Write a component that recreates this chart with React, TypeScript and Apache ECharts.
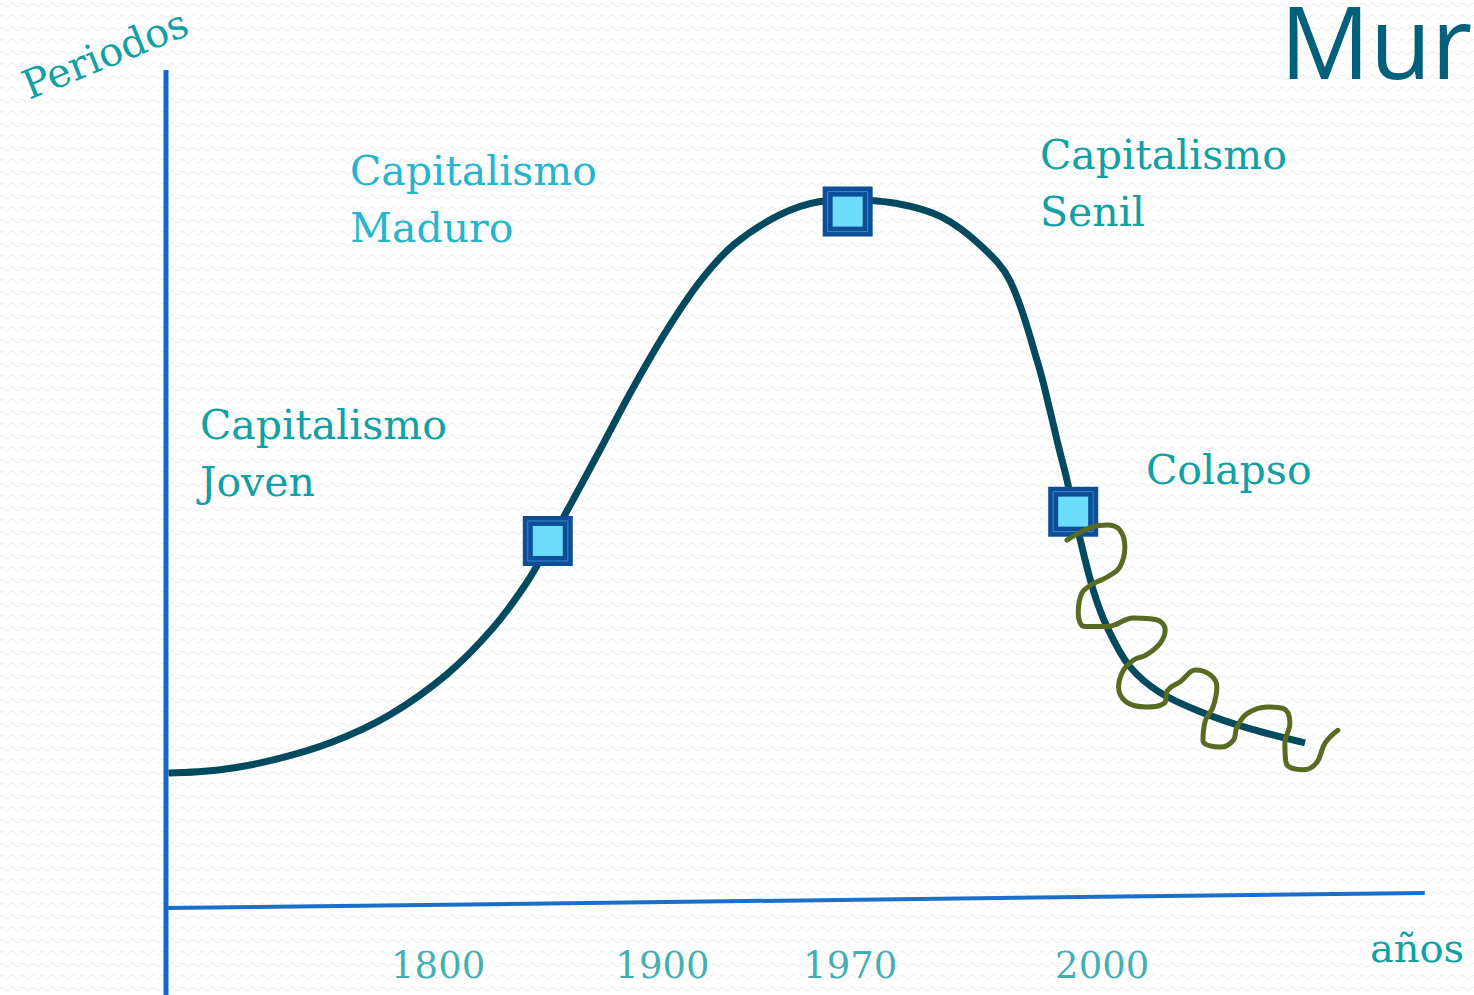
import React, { useEffect, useRef } from "react";
import * as echarts from "echarts";

// Conceptual units: x 0..100 (left axis to right end), y 0 = horizontal axis, 100 = top of vertical axis
const curvePoints: [number, number][] = [
  [0.2, 16.1], [4.3, 16.5], [8.6, 17.7], [13.2, 19.8], [17.7, 23.0], [22.3, 27.9],
  [26.0, 33.5], [28.7, 39.0], [30.3, 43.2], [34.1, 53.7], [36.9, 61.6], [39.6, 68.6],
  [42.4, 74.8], [45.1, 79.2], [48.7, 82.7], [51.9, 84.3], [54.2, 84.5], [57.9, 84.1],
  [61.5, 82.5], [64.7, 79.0], [67.0, 74.8], [69.2, 65.0], [70.2, 59.1],
  [70.8, 55.3], [71.5, 51.1], [72.5, 44.3], [73.6, 37.9], [74.7, 33.5], [76.5, 28.8],
  [78.9, 25.7], [82.3, 23.3], [85.8, 21.5], [90.4, 19.7],
];

const wigglePoints: [number, number][] = [
  [71.5, 43.9], [73.6, 45.5], [74.7, 45.7], [75.7, 45.1], [76.1, 43.1], [75.7, 40.7],
  [74.7, 39.5], [73.6, 38.7], [72.7, 37.6], [72.4, 35.2], [72.9, 33.6], [74.7, 33.6],
  [76.8, 34.6], [78.6, 34.4], [79.3, 33.2], [78.9, 31.6], [77.8, 30.2], [76.8, 29.6],
  [76.0, 28.4], [75.6, 26.4], [76.2, 24.6], [77.8, 24.0], [79.2, 24.4], [79.5, 26.0],
  [80.5, 27.0], [81.7, 28.4], [82.9, 27.8], [83.4, 26.4], [83.1, 24.0], [82.5, 22.4],
  [82.3, 20.0], [83.7, 19.2], [84.7, 20.0], [85.0, 21.6], [85.8, 23.2], [87.4, 24.0],
  [88.7, 23.8], [89.2, 22.0], [88.8, 19.7], [88.9, 17.3], [90.3, 16.5], [91.3, 17.3],
  [92.0, 19.7], [93.0, 21.2],
];

const milestonePoints: [number, number][] = [
  [30.3, 43.8], [54.1, 83.1], [72.0, 47.3],
];

const verticalAxisLine: [number, number][] = [[0, 100], [0, -10.4]];
const horizontalAxisLine: [number, number][] = [[0.1, 0], [99.9, 1.8]];

const yearLabels = ["1800", "1900", "1970", "2000"];
const yearPositions: [number, number][] = [[21.6, -6.9], [39.4, -6.9], [54.3, -6.9], [74.3, -6.9]];

const TEAL = "#11a0a3";
const LIGHT_TEAL = "#27b5cc";
const SERIF = "'DejaVu Serif', serif";

const tile =
  "<svg xmlns='http://www.w3.org/2000/svg' width='10' height='12'><path d='M0 5 Q2.5 1.5 5 5 T10 5' fill='none' stroke='#f0f0f0' stroke-width='1.2'/></svg>";

export default function App() {
  const ref = useRef<HTMLDivElement>(null);

  useEffect(() => {
    if (!ref.current) return;
    const chart = echarts.init(ref.current, undefined, { renderer: "svg" });

    const txt = (text: string, x: number, y: number, size: number, color: string, extra: any = {}) => ({
      type: "text",
      x,
      y,
      silent: true,
      z: 10,
      style: {
        text,
        fill: color,
        font: `${size}px ${SERIF}`,
        textAlign: "left",
        textVerticalAlign: "middle",
        ...(extra.style || {}),
      },
      ...(extra.el || {}),
    });

    chart.setOption({
      animation: false,
      backgroundColor: "transparent",
      grid: { left: 166, right: 48, top: 70, bottom: 0, containLabel: false },
      xAxis: { type: "value", min: 0, max: 100, show: false },
      yAxis: { type: "value", min: -10.38, max: 100, show: false },
      graphic: [
        txt("Periodos", 105, 54, 40, TEAL, {
          el: { rotation: 0.385 },
          style: { textAlign: "center" },
        }),
        txt("Capitalismo", 350, 171, 41, LIGHT_TEAL),
        txt("Maduro", 350, 228, 41, LIGHT_TEAL),
        txt("Capitalismo", 200, 425, 41, TEAL),
        txt("Joven", 200, 482, 41, TEAL),
        txt("Capitalismo", 1040, 155, 41, TEAL),
        txt("Senil", 1040, 212, 41, TEAL),
        txt("Colapso", 1146, 470, 41, TEAL),
        txt("años", 1417, 948, 40, TEAL, { style: { textAlign: "center" } }),
        {
          type: "text",
          x: 1280,
          y: 40,
          silent: true,
          z: 10,
          style: {
            text: "Mur",
            fill: "#03607a",
            font: "100px 'Open Sans', sans-serif",
            textAlign: "left",
            textVerticalAlign: "middle",
          },
        },
      ],
      series: [
        {
          type: "line",
          data: verticalAxisLine,
          symbol: "none",
          clip: false,
          lineStyle: { color: "#1569c6", width: 5 },
          z: 1,
          silent: true,
        },
        {
          type: "line",
          data: horizontalAxisLine,
          symbol: "none",
          clip: false,
          lineStyle: { color: "#1a6fca", width: 4 },
          z: 1,
          silent: true,
        },
        {
          type: "line",
          data: curvePoints,
          smooth: 0.35,
          symbol: "none",
          clip: false,
          lineStyle: { color: "#044a5e", width: 7, cap: "butt" },
          z: 2,
          silent: true,
        },
        {
          type: "scatter",
          data: milestonePoints,
          symbol: "rect",
          symbolSize: 50,
          itemStyle: { color: "#0c4f98", opacity: 1 },
          z: 3,
          silent: true,
        },
        {
          type: "scatter",
          data: milestonePoints,
          symbol: "rect",
          symbolSize: 40,
          itemStyle: { color: "none", borderColor: "#3f86c9", borderWidth: 1, opacity: 1 },
          z: 4,
          silent: true,
        },
        {
          type: "scatter",
          data: milestonePoints,
          symbol: "rect",
          symbolSize: 30,
          itemStyle: { color: "#6bdcfa", opacity: 1 },
          z: 5,
          silent: true,
        },
        {
          type: "line",
          data: wigglePoints,
          smooth: 0.4,
          symbol: "none",
          clip: false,
          lineStyle: { color: "#596a22", width: 5, cap: "round", join: "round" },
          z: 6,
          silent: true,
        },
        {
          type: "scatter",
          data: yearPositions.map((p, i) => ({ value: p, name: yearLabels[i] })),
          symbolSize: 1,
          itemStyle: { color: "transparent" },
          label: {
            show: true,
            position: "inside",
            formatter: (p: any) => p.name,
            color: "#0e9b9e",
            fontFamily: SERIF,
            fontSize: 37,
          },
          z: 7,
          silent: true,
        },
      ],
    });

    return () => chart.dispose();
  }, []);

  return (
    <div
      ref={ref}
      style={{
        position: "absolute",
        left: 0,
        top: 0,
        width: 1474,
        height: 995,
        backgroundColor: "#ffffff",
        backgroundImage: `url("data:image/svg+xml,${encodeURIComponent(tile)}")`,
        backgroundRepeat: "repeat",
      }}
    />
  );
}
